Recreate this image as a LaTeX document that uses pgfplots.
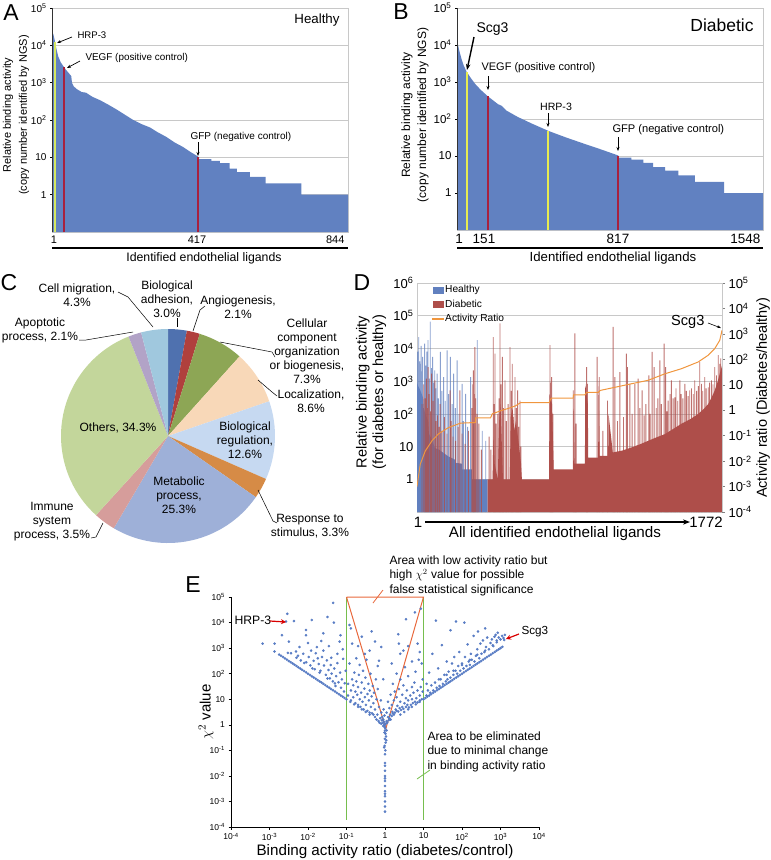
\documentclass[border=0pt]{standalone}
\usepackage{pgfplots}
\pgfplotsset{compat=1.18}
\usepackage{fontspec}
\setmainfont{Liberation Sans}
\usetikzlibrary{arrows.meta}
\newcommand{\fs}[2]{\fontsize{#1}{#2}\selectfont}
\definecolor{barblue}{RGB}{97,129,193}
\definecolor{hrpA}{RGB}{214,232,96}
\definecolor{hrpB}{RGB}{232,236,80}
\definecolor{mred}{RGB}{168,32,62}
\definecolor{dred}{RGB}{174,78,74}
\definecolor{dblue}{RGB}{97,128,191}
\definecolor{orng}{RGB}{240,150,62}
\definecolor{edot}{RGB}{88,124,196}
\definecolor{egreen}{RGB}{118,190,78}
\definecolor{etri}{RGB}{232,104,60}
\definecolor{gridc}{RGB}{200,200,200}
\definecolor{pA}{RGB}{79,113,175}
\definecolor{pB}{RGB}{176,64,61}
\definecolor{pC}{RGB}{141,166,85}
\definecolor{pD}{RGB}{248,216,184}
\definecolor{pE}{RGB}{198,217,241}
\definecolor{pF}{RGB}{214,139,70}
\definecolor{pG}{RGB}{158,176,216}
\definecolor{pH}{RGB}{214,157,155}
\definecolor{pI}{RGB}{195,214,155}
\definecolor{pJ}{RGB}{178,163,199}
\definecolor{pK}{RGB}{160,200,222}
\begin{document}
\begin{tikzpicture}[x=1pt,y=-1pt]
\useasboundingbox (0,0) rectangle (771,860);

% ---------------- Panel A ----------------
\begin{axis}[at={(52pt,-232pt)}, anchor=south west, scale only axis, width=296pt, height=224pt,
  ymode=log, ymin=0.1, ymax=1e5, log origin y=infty,
  ytick={1,10,100,1000,10000,100000},
  yticklabels={1,10,10\textsuperscript{2},10\textsuperscript{3},10\textsuperscript{4},10\textsuperscript{5}},
  yminorticks=false, ymajorgrids, grid style={gridc, line width=0.6pt},
  axis line style={gridc}, ytick style={black, line width=0.4pt},
  ytick pos=left, tick align=outside, major tick length=2pt,
  xmin=0, xmax=845, xtick=\empty,
  yticklabel style={font=\fs{10}{12}}]
\addplot[fill=barblue, draw=none] coordinates {(0,90000) (1.5,90000) (1.5,23000) (5,18000) (9,12000) (14,7000) (18,5000) (25,3500) (32,2800) (40,2200) (48,1800) (55,1500) (57,1000) (62,800) (70,680) (85,560) (97,540) (115,420) (137,340) (160,260) (185,190) (210,135) (232,100) (255,78) (280,63) (300,48) (327,35) (350,25) (374,19) (395,14) (417,10.5) (420,10) (420,9) (455,9) (455,8) (479,8) (479,7) (507,7) (507,5) (528,5) (528,4) (565,4) (565,3) (610,3) (610,2) (712,2) (712,1) (845,1)} \closedcycle;
\addplot[hrpA, line width=2pt] coordinates {(9,0.1) (9,12000)};
\addplot[mred, line width=2pt] coordinates {(34,0.1) (34,2600)};
\addplot[mred, line width=2pt] coordinates {(417,0.1) (417,10)};
\draw[black!80, line width=0.6pt] (rel axis cs:0,0) -- (rel axis cs:0,1);
\end{axis}
\begin{scope}[font=\fs{11}{13}]
\node at (54,240) {1};
\node at (197,240) {417};
\node[anchor=east] at (348,240) {844};
\end{scope}
\node[font=\fs{23}{26}] at (11,13) {A};
\node[font=\fs{13.3}{15}] at (317,20) {Healthy};
\node[font=\fs{9.6}{11}, anchor=west] at (74,35) {HRP-3};
\draw[-{Stealth[length=4pt]}, line width=0.7pt] (72,37) -- (57,43);
\node[font=\fs{9.9}{11}, anchor=west] at (82,58) {VEGF (positive control)};
\draw[-{Stealth[length=4pt]}, line width=0.7pt] (80,61) -- (67,68);
\node[font=\fs{10}{11}, anchor=west] at (187,137) {GFP (negative control)};
\draw[-{Stealth[length=4pt]}, line width=0.7pt] (198,142) -- (198,156);
\draw[line width=2.5pt] (52,248) -- (348,248);
\node[font=\fs{12.3}{14}] at (204,258) {Identified endothelial ligands};
\node[rotate=90, align=center, font=\fs{11}{16}] at (16,115) {Relative binding activity\\(copy number identified by NGS)};

% ---------------- Panel B ----------------
\begin{axis}[at={(457pt,-230pt)}, anchor=south west, scale only axis, width=306pt, height=222pt,
  ymode=log, ymin=0.1, ymax=1e5, log origin y=infty,
  ytick={1,10,100,1000,10000,100000},
  yticklabels={1,10,10\textsuperscript{2},10\textsuperscript{3},10\textsuperscript{4},10\textsuperscript{5}},
  yminorticks=false, ymajorgrids, grid style={gridc, line width=0.6pt},
  axis line style={gridc}, ytick style={black, line width=0.4pt},
  ytick pos=left, tick align=outside, major tick length=2pt,
  xmin=1, xmax=1548, xtick=\empty,
  yticklabel style={font=\fs{11.5}{13}}]
\addplot[fill=barblue, draw=none] coordinates {(1,14500) (5,11000) (10,8000) (16,6000) (24,4200) (35,2800) (50,1870) (70,1300) (92,900) (120,620) (156,415) (180,330) (208,252) (227,227) (250,170) (309,113) (380,75) (462,48) (550,32) (649,21) (730,15) (817,10.3) (817,9) (883,9) (883,8) (943,8) (943,6.5) (993,6.5) (993,5) (1053,5) (1053,4) (1120,4) (1120,3) (1204,3) (1204,2) (1351,2) (1351,1) (1548,1)} \closedcycle;
\addplot[hrpB, line width=2pt] coordinates {(50,0.1) (50,1870)};
\addplot[mred, line width=2pt] coordinates {(156,0.1) (156,415)};
\addplot[hrpB, line width=2pt] coordinates {(462,0.1) (462,48)};
\addplot[mred, line width=2pt] coordinates {(817,0.1) (817,10)};
\draw[black!80, line width=0.6pt] (rel axis cs:0,0) -- (rel axis cs:0,1);
\end{axis}
\begin{scope}[font=\fs{13.5}{15}]
\node at (459,239) {1};
\node at (484,239) {151};
\node at (618,239) {817};
\node[anchor=east] at (764,239) {1548};
\end{scope}
\node[font=\fs{23}{26}] at (401,12) {B};
\node[font=\fs{17.5}{20}] at (722,25) {Diabetic};
\node[font=\fs{14}{16}, anchor=west] at (473,29) {Scg3};
\draw[-{Stealth[length=6pt]}, line width=1.4pt] (474,37) -- (467,70);
\node[font=\fs{11}{13}, anchor=west] at (478,68) {VEGF (positive control)};
\draw[-{Stealth[length=4pt]}, line width=0.8pt] (488,76) -- (488,90);
\node[font=\fs{10.6}{12}] at (556,107) {HRP-3};
\draw[-{Stealth[length=4pt]}, line width=0.8pt] (548,113) -- (548,127);
\node[font=\fs{11.1}{13}, anchor=west] at (609,130) {GFP (negative control)};
\draw[-{Stealth[length=4pt]}, line width=0.8pt] (618,137) -- (618,151);
\draw[line width=2.5pt] (457,248) -- (763,248);
\node[font=\fs{13.2}{15}] at (613,258) {Identified endothelial ligands};
\node[rotate=90, align=center, font=\fs{12}{16}] at (415,115) {Relative binding activity\\(copy number identified by NGS)};

% ---------------- Panel C (pie) ----------------
\node[font=\fs{23}{26}] at (9,283) {C};
\begin{scope}[shift={(168pt,-436pt)}]
\def\cum{90}
\foreach \p/\c in {3.0/pA, 2.1/pB, 7.3/pC, 8.6/pD, 12.6/pE, 3.3/pF, 25.3/pG, 3.5/pH, 34.3/pI, 2.1/pJ, 4.3/pK} {
  \pgfmathsetmacro{\e}{\cum - \p*360/106.4}
  \fill[\c] (0pt,0pt) -- (\cum:107pt) arc[start angle=\cum, end angle=\e, radius=107pt] -- cycle;
  \global\let\cum\e
}
\end{scope}
\begin{scope}[font=\fs{12}{14}, align=center]
\node at (77,295) {Cell migration,\\4.3\%};
\node at (167,299) {Biological\\adhesion,\\3.0\%};
\node at (238,307) {Angiogenesis,\\2.1\%};
\node at (307,351) {Cellular\\component\\organization\\or biogenesis,\\7.3\%};
\node at (311,401) {Localization,\\8.6\%};
\node at (245,440) {Biological\\regulation,\\12.6\%};
\node at (118,428) {Others, 34.3\%};
\node at (179,495) {Metabolic\\process,\\25.3\%};
\node at (310,526) {Response to\\stimulus, 3.3\%};
\node at (52,522) {Immune\\system\\process, 3.5\%};
\node at (40,330) {Apoptotic\\process, 2.1\%};
\end{scope}
\begin{scope}[line width=0.5pt]
\draw (118,292) -- (128,297) -- (153,327);
\draw (177,318) -- (177,327);
\draw (205,306) -- (200,310) -- (193,331);
\draw (220,342) -- (272,352) -- (275,357);
\draw (258,380) -- (272,392) -- (277,396);
\draw (258,490) -- (273,521) -- (277,523);
\draw (91,538) -- (96,537) -- (103,523);
\draw (79,340) -- (86,340) -- (133,332);
\end{scope}

% ---------------- Panel D ----------------
\node[font=\fs{23}{26}] at (362,283) {D};
\begin{axis}[at={(417pt,-512pt)}, anchor=south west, scale only axis, width=305pt, height=229pt,
  ymode=log, ymin=0.1, ymax=1e6, log origin y=infty, xmin=1, xmax=1772, xtick=\empty,
  ytick={1,10,100,1000,10000,100000,1000000},
  yticklabels={1,10,10\textsuperscript{2},10\textsuperscript{3},10\textsuperscript{4},10\textsuperscript{5},10\textsuperscript{6}},
  yminorticks=false, ymajorgrids, grid style={gridc, line width=0.6pt},
  axis line style={gridc}, ytick style={draw=none}, ytick pos=left,
  yticklabel style={font=\fs{13}{15}}]
\addplot[fill=dblue, draw=none] coordinates {(1,900) (8,700) (15,600) (25,450) (37,300) (40,150) (50,100) (66,60) (70,25) (90,15) (105,9) (130,8) (153,6.5) (183,5) (221,4) (221,3.2) (262,3) (262,2) (320,2) (320,1) (411,1)} \closedcycle;
\addplot[ybar, bar shift=0pt, bar width=0.9pt, fill=dblue, draw=none, fill opacity=0.75] coordinates {(5,8000) (11,22000) (16,4000) (20,3400) (25,12000) (28,2000) (34,5500) (45,14000) (52,3000) (58,8000) (65,18000) (72,1200) (78,66000) (85,2500) (92,5500) (98,900) (104,2140) (110,600) (118,1700) (125,300) (137,7800) (145,500) (156,1330) (165,250) (176,8800) (185,400) (195,5500) (205,200) (214,1700) (224,150) (234,4300) (245,100) (263,830) (270,60) (283,410) (295,40) (312,1330) (330,50) (351,18000) (380,30) (400,15)};
\addplot[fill=dred, draw=none] coordinates {(411,1) (440,1) (444,20) (452,3) (470,1) (478,60) (486,200) (494,10) (500,1) (540,1) (545,80) (556,150) (566,30) (575,60) (590,15) (605,3) (610,1) (768,1) (770,400) (785,200) (795,2) (908,2) (910,300) (916,3) (976,3) (978,800) (993,200) (995,4.6) (1053,4.6) (1055,1000) (1062,5.2) (1111,5.2) (1113,100) (1138,6.6) (1190,7.5) (1247,9.4) (1300,12) (1343,15) (1390,19) (1440,24) (1490,35) (1537,50) (1590,70) (1634,100) (1665,140) (1692,200) (1712,320) (1730,520) (1745,900) (1759,1700) (1772,3000)} \closedcycle;
\addplot[ybar, bar shift=0pt, bar width=0.9pt, fill=dred, draw=none, fill opacity=0.8] coordinates {(30,200) (40,800) (48,300) (55,1200) (62,150) (66,2700) (72,400) (80,120) (86,1700) (95,250) (105,1050) (112,60) (120,90) (128,40) (135,200) (145,30) (160,80) (175,25) (193,520) (200,60) (210,20) (225,15) (240,40) (250,520) (262,25) (280,12) (300,30) (320,150) (325,800) (328,2140) (333,400) (337,11000) (342,300) (350,100) (360,50) (375,8) (420,20) (430,8) (444,22000) (448,200) (454,6900) (460,50) (470,100) (478,300) (483,58000) (488,800) (497,5500) (503,150) (512,1050) (520,60) (530,200) (541,11000) (548,500) (554,3400) (560,80) (570,1330) (578,150) (585,520) (592,40) (599,256) (605,10) (773,12600) (778,900) (783,1330) (790,100) (908,520) (918,29000) (925,50) (986,2700) (991,830) (1047,5500) (1059,1330) (1080,30) (1107,256) (1140,46000) (1150,1330) (1165,60) (1179,1900) (1200,80) (1217,6900) (1223,2700) (1237,830) (1250,100) (1266,830) (1285,1200) (1295,150) (1308,520) (1320,90) (1330,200) (1347,1500) (1355,100) (1366,7800) (1378,2700) (1390,150) (1400,300) (1411,4300) (1420,200) (1436,14000) (1445,2700) (1452,120) (1459,256) (1470,400) (1478,1050) (1488,300) (1498,320) (1505,600) (1515,250) (1527,1050) (1535,400) (1545,300) (1556,830) (1565,500) (1575,350) (1585,520) (1595,600) (1605,400) (1614,1050) (1625,500) (1635,700) (1643,3800) (1653,830) (1660,500) (1672,1330) (1680,600) (1692,650) (1700,900) (1711,1050) (1720,800) (1730,2700) (1740,1500) (1750,6200) (1759,3400) (1765,5000)};
\end{axis}
\begin{axis}[at={(417pt,-512pt)}, anchor=south west, scale only axis, width=305pt, height=229pt,
  ymode=log, ymin=1e-4, ymax=1e5, xmin=1, xmax=1772,
  axis x line=none, axis y line*=right, axis line style={gridc},
  ytick={0.0001,0.001,0.01,0.1,1,10,100,1000,10000,100000},
  yticklabels={10\textsuperscript{-4},10\textsuperscript{-3},10\textsuperscript{-2},10\textsuperscript{-1},1,10,10\textsuperscript{2},10\textsuperscript{3},10\textsuperscript{4},10\textsuperscript{5}},
  yminorticks=false, ytick style={gray, line width=0.5pt}, tick align=outside, major tick length=3pt,
  yticklabel style={font=\fs{13}{15}}]
\addplot[orng, line width=1pt] coordinates {(1,0.001) (20,0.0076) (49,0.025) (88,0.063) (127,0.12) (185,0.21) (253,0.31) (341,0.33) (341,0.5) (428,0.5) (438,0.72) (496,1.0) (535,1.2) (574,1.5) (603,2) (768,2) (780,3) (908,3) (910,4) (976,4) (985,5) (1053,5) (1065,6) (1247,11) (1343,15) (1440,27) (1537,43) (1634,79) (1692,145) (1730,265) (1759,560) (1772,1380)};
\end{axis}
% legend of D
\fill[dblue] (433,286.5) rectangle (444,293.5);
\node[font=\fs{10.2}{12}, anchor=west, inner sep=1pt] at (444,290) {Healthy};
\fill[dred] (433,300.5) rectangle (444,307.5);
\node[font=\fs{10.2}{12}, anchor=west, inner sep=1pt] at (444,304) {Diabetic};
\draw[orng, line width=1.2pt] (432,319) -- (444,319);
\node[font=\fs{10.2}{12}, anchor=west, inner sep=1pt] at (444,319) {Activity Ratio};
\node[font=\fs{14.6}{16}, anchor=east] at (708,322) {Scg3};
\draw[-{Stealth[length=4pt]}, line width=0.6pt] (708,323) -- (721,328);
\node[font=\fs{15}{17}] at (418,522) {1};
\node[font=\fs{15}{17}] at (706,522) {1772};
\draw[-{Stealth[length=7pt]}, line width=1.6pt] (425,522) -- (690,522);
\node[font=\fs{15.2}{17}] at (555,534) {All identified endothelial ligands};
\node[rotate=90, align=center, font=\fs{14.6}{16.5}] at (371,392) {Relative binding activity\\(for diabetes or healthy)};
\node[rotate=90, font=\fs{14.5}{16}] at (763,398) {Activity ratio (Diabetes/healthy)};

% ---------------- Panel E ----------------
\node[font=\fs{23}{26}] at (193,585) {E};
\begin{axis}[at={(231pt,-827pt)}, anchor=south west, scale only axis, width=308pt, height=230pt,
  xmode=log, ymode=log, xmin=1e-4, xmax=1e4, ymin=1e-4, ymax=1e5,
  axis x line*=bottom, axis y line*=left, axis line style={black, -},
  xtick={0.0001,0.001,0.01,0.1,1,10,100,1000,10000},
  xticklabels={10\textsuperscript{-4},10\textsuperscript{-3},10\textsuperscript{-2},10\textsuperscript{-1},1,10,10\textsuperscript{2},10\textsuperscript{3},10\textsuperscript{4}},
  ytick={0.0001,0.001,0.01,0.1,1,10,100,1000,10000,100000},
  yticklabels={10\textsuperscript{-4},10\textsuperscript{-3},10\textsuperscript{-2},10\textsuperscript{-1},1,10,10\textsuperscript{2},10\textsuperscript{3},10\textsuperscript{4},10\textsuperscript{5}},
  xminorticks=false, yminorticks=false, tick style={black, line width=0.4pt}, tick align=outside, major tick length=2.5pt,
  ticklabel style={font=\fs{8.5}{10}}, clip=false]
\addplot[only marks, mark=*, mark size=1.1pt, edot] coordinates {
(1.778e-3,562) (1.995e-3,501) (2.239e-3,447) (2.512e-3,398) (2.818e-3,355) (3.162e-3,316) (3.548e-3,282) (3.981e-3,251) (4.467e-3,224) (5.012e-3,200) (5.623e-3,178) (6.31e-3,158) (7.079e-3,141) (7.943e-3,126) (8.913e-3,112) (1e-2,100) (1.122e-2,89) (1.259e-2,79) (1.413e-2,71) (1.585e-2,63) (1.778e-2,56) (1.995e-2,50) (2.239e-2,45) (2.512e-2,40) (2.818e-2,35.5) (3.162e-2,31.6) (3.548e-2,28.2) (3.981e-2,25.1) (4.467e-2,22.4) (5.012e-2,20) (5.623e-2,17.8) (6.31e-2,15.8) (7.079e-2,14.1) (7.943e-2,12.6) (8.913e-2,11.2) (0.1,10) (0.126,7.9) (0.158,6.3) (0.2,5) (0.25,4) (0.316,3.2) (0.4,2.5)
(2.5,2.5) (3.16,3.16) (4,4) (5,5) (6.3,6.3) (7.9,7.9) (10,10) (11.2,11.2) (12.6,12.6) (14.1,14.1) (15.8,15.8) (17.8,17.8) (20,20) (22.4,22.4) (25.1,25.1) (28.2,28.2) (31.6,31.6) (35.5,35.5) (39.8,39.8) (44.7,44.7) (50.1,50.1) (56.2,56.2) (63.1,63.1) (70.8,70.8) (79.4,79.4) (89.1,89.1) (100,100) (112,112) (126,126) (141,141) (158,158) (178,178) (200,200) (224,224) (251,251) (282,282) (316,316) (355,355) (398,398) (447,447) (501,501) (562,562) (631,631) (708,708) (794,794) (891,891) (1000,1000) (1122,1122)
(25,60) (40,90) (60,130) (100,220) (160,350) (250,550) (400,800) (630,1300) (800,1700) (3e-3,650) (5e-3,420) (8e-3,260) (1.3e-2,160) (2e-2,110) (3.2e-2,65) (5e-2,42)
(6.6e-4,1.5e3) (1.35e-3,1.5e3) (1.35e-3,7.4e2) (2.1e-3,3.2e3) (2.9e-3,2.2e4) (2.7e-3,1.1e4) (4.3e-3,1.15e4) (3.2e-3,1.8e3) (3.6e-3,6.3e2) (4.9e-3,7.4e2) (8.9e-3,5.1e3) (8.9e-3,3.2e3) (1.26e-2,1.26e4) (1.6e-2,6.3e2) (1.8e-2,4e2) (2.5e-2,8e2) (3.2e-2,1.66e4) (2.5e-2,3.8e3) (4.5e-2,5.9e4) (4.7e-2,1e4) (6.6e-2,1.8e3) (1.3e-1,5.9e3)
(5.5e-3,5e2) (6.5e-3,3.3e2) (7.5e-3,6e2) (9e-3,2.8e2) (1.05e-2,4.5e2) (1.15e-2,2.1e2) (1.4e-2,3.2e2) (1.5e-2,1.5e2) (1.9e-2,2.4e2) (2.1e-2,1.3e2) (2.3e-2,4.5e2) (2.6e-2,2.1e2) (2.9e-2,9e1) (3.1e-2,3.3e2) (3.4e-2,1.4e2) (3.7e-2,6.5e1) (3.9e-2,2.2e2) (4.1e-2,1e2) (4.4e-2,5e1) (4.8e-2,1.6e2) (5.2e-2,3.3e1) (5.4e-2,8e1) (5.8e-2,2.6e2) (6.2e-2,4.6e1) (6.8e-2,1.1e2) (7.2e-2,2.8e1) (7.6e-2,6e1) (8.2e-2,3.8e2) (8.6e-2,2e1) (9e-2,4.2e1) (9.5e-2,1.3e2) (1.7e-2,1.1e3) (2.2e-2,1.9e3) (3.5e-2,1.2e3) (5.8e-2,6e2) (7e-2,3.2e3) (8e-2,9e2) (4e-2,4.2e2) (1.2e-2,8e2) (6e-3,1.1e3) (1e-2,1.6e3)
(0.11,14) (0.11,40) (0.12,250) (0.12,8000) (0.13,9) (0.13,22) (0.14,60) (0.14,1500) (0.15,12) (0.15,35) (0.16,110) (0.17,7) (0.17,20) (0.18,50) (0.18,400) (0.19,15) (0.2,6) (0.2,30) (0.21,90) (0.22,10) (0.22,220) (0.23,5) (0.24,18) (0.25,45) (0.26,8) (0.27,130) (0.28,4) (0.29,26) (0.3,12) (0.31,70) (0.32,6) (0.33,350) (0.35,3.5) (0.35,16) (0.37,40) (0.38,9) (0.4,3) (0.4,22) (0.42,100) (0.43,5) (0.45,13) (0.46,2.8) (0.48,33) (0.5,7) (0.5,2.5) (0.52,18) (0.55,2) (0.55,4) (0.58,60) (0.6,1.6) (0.6,10) (0.63,2.5) (0.65,25) (0.68,1.4) (0.7,5) (0.72,1.2) (0.75,1.8) (0.78,9) (0.8,1.1) (0.8,3) (0.83,1.5) (0.85,2) (0.88,1.2) (0.9,0.9) (0.9,1.6) (0.92,4) (0.95,1.0) (0.95,1.3) (0.97,2.3) (0.98,0.8) (0.2,1200) (0.25,2800) (0.3,600) (0.45,4500) (0.55,1800) (0.4,800) (0.7,320) (0.8,1100) (0.9,60) (0.65,200)
(1.0,1.0) (1.02,0.75) (1.05,1.1) (1.0,0.6) (1.03,0.45) (0.97,0.5) (1.06,0.35) (0.99,0.28) (1.04,0.2) (0.98,0.15) (1.02,0.1) (1.0,0.07) (1.0,0.032) (1.0,0.025) (1.0,0.016) (1.0,0.01) (1.0,0.008) (1.0,0.0063) (1.0,0.004) (1.0,0.0025) (1.0,0.002) (1.0,0.0016) (1.0,0.001) (1.0,0.00063) (1.0,0.0004) (1.08,0.25) (0.95,0.13) (1.1,0.6)
(1.1,1.4) (1.1,3) (1.15,1.2) (1.2,2) (1.2,8) (1.25,1.5) (1.3,1.8) (1.3,4.5) (1.35,2.5) (1.4,1.6) (1.4,15) (1.5,2.2) (1.5,6) (1.55,3.2) (1.6,2.8) (1.6,40) (1.7,2.5) (1.7,9) (1.8,3) (1.8,20) (1.9,4) (2,3.5) (2,12) (2,100) (2.1,5.5) (2.2,3.3) (2.3,25) (2.4,4.5) (2.5,8) (2.5,60) (2.6,3.8) (2.8,5) (2.8,15) (3,4.2) (3,35) (3.2,7) (3.3,180) (3.5,5) (3.5,11) (3.7,22) (3.8,6) (4,9) (4,80) (4.2,4.8) (4.5,14) (4.7,6) (5,30) (5,10) (5.3,7) (5.5,18) (5.8,45) (6,8) (6.2,120) (6.5,11) (7,22) (7,7.5) (7.5,350) (8,14) (8,9) (8.5,30) (9,10) (9.5,60) (9.5,20) (2.2,3500) (3.5,13500) (6,25000) (8.5,35000) (2.5,600) (4,1200) (5,300) (7,1500) (9,250) (1.5,250) (3,800) (8,700) (2.3,1500)
(12,14) (12,40) (13,22) (14,110) (15,18) (16,35) (17,600) (18,22) (20,45) (21,12000) (22,28) (24,160) (26,33) (28,60) (30,1300) (32,40) (35,90) (38,50) (40,300) (42,60) (45,120) (50,70) (50,5000) (55,250) (60,90) (63,450) (68,130) (70,11000) (75,100) (80,200) (85,700) (90,130) (100,250) (110,160) (115,10000) (120,450) (130,200) (140,1400) (150,300) (160,220) (170,600) (180,350) (200,3000) (210,300) (230,500) (250,900) (260,4500) (280,400) (300,1500) (320,600) (350,2000) (380,700) (400,5900) (420,1100) (450,2600) (500,900) (550,1600) (600,2200) (650,1200) (700,2800) (800,2000) (850,4000) (900,2600) (1000,2200) (1100,3000) (1200,2500) (1300,3300) (1250,2100) (750,3300)
};
\addplot[egreen, line width=1pt] coordinates {(0.1,1e5) (0.1,1.9e-4)};
\addplot[egreen, line width=1pt] coordinates {(10,1e5) (10,1.9e-4)};
\addplot[etri, line width=1pt] coordinates {(0.1,1e5) (10,1e5) (1.05,0.7) (0.1,1e5)};
\end{axis}
\node[rotate=90, font=\fs{15}{17}] at (206,712) {$\chi^2$ value};
\node[font=\fs{15.2}{17}] at (385,852) {Binding activity ratio (diabetes/control)};
\node[font=\fs{12}{14.5}, align=left, anchor=north west] at (386,552) {Area with low activity ratio but\\high $\chi^2$ value for possible\\false statistical significance};
\draw[etri, line width=0.8pt] (383,590) -- (373,603);
\node[font=\fs{12}{14.5}, align=left, anchor=north west] at (424,728) {Area to be eliminated\\due to minimal change\\in binding activity ratio};
\draw[egreen, line width=0.8pt] (430,770) -- (417,779);
\node[font=\fs{12.2}{14}, anchor=west] at (231,620) {HRP-3};
\draw[red!85!black, -{Stealth[length=5pt, width=5pt]}, line width=1.2pt] (270,621) -- (286,622);
\node[font=\fs{11.7}{14}, anchor=west] at (518,632) {Scg3};
\draw[red!85!black, -{Stealth[length=5pt, width=5pt]}, line width=1.2pt] (519,634) -- (506,639);
\end{tikzpicture}
\end{document}
